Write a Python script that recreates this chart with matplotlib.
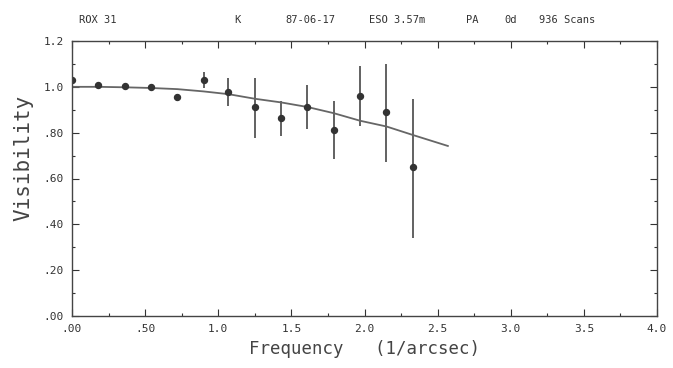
import matplotlib
matplotlib.use("Agg")
import matplotlib.pyplot as plt
from matplotlib.ticker import MultipleLocator, FixedLocator

# measured visibilities
freq = [0.0, 0.18, 0.36, 0.54, 0.72, 0.90, 1.07, 1.25, 1.43, 1.61, 1.79, 1.97, 2.15, 2.33]
vis = [1.03, 1.01, 1.004, 1.0, 0.955, 1.03, 0.977, 0.911, 0.863, 0.914, 0.812, 0.961, 0.89, 0.648]
vis_lo = [1.03, 1.01, 1.004, 1.0, 0.94, 0.994, 0.915, 0.776, 0.786, 0.815, 0.684, 0.827, 0.674, 0.339]
vis_hi = [1.03, 1.01, 1.004, 1.0, 0.97, 1.066, 1.038, 1.038, 0.936, 1.009, 0.936, 1.089, 1.10, 0.946]

# model curve
fit_freq = [0.0, 0.18, 0.36, 0.54, 0.72, 0.90, 1.07, 1.25, 1.43, 1.61, 1.79, 1.97, 2.15, 2.33, 2.57]
fit_vis = [1.0, 1.0, 0.998, 0.995, 0.99, 0.98, 0.968, 0.948, 0.932, 0.912, 0.885, 0.852, 0.827, 0.79, 0.742]

xticks = [0, 0.5, 1.0, 1.5, 2.0, 2.5, 3.0, 3.5, 4.0]
xticklabels = [".00", ".50", "1.0", "1.5", "2.0", "2.5", "3.0", "3.5", "4.0"]
yticks = [0, 0.2, 0.4, 0.6, 0.8, 1.0, 1.2]
yticklabels = [".00", ".20", ".40", ".60", ".80", "1.0", "1.2"]

header = [(79, "ROX 31"), (234, "K"), (285, "87-06-17"), (369, "ESO 3.57m"),
          (466, "PA"), (504, "0d"), (539, "936 Scans")]

ink = "#333333"
plt.rcParams["font.family"] = "DejaVu Sans Mono"

fig = plt.figure(figsize=(6.73, 3.68), dpi=100, facecolor="w")
ax = fig.add_axes([72 / 673, 1 - 316 / 368, 585 / 673, 275 / 368])

yerr = [[v - lo for v, lo in zip(vis, vis_lo)], [hi - v for v, hi in zip(vis, vis_hi)]]
ax.errorbar(freq, vis, yerr=yerr, fmt="o", color=ink, ecolor="#555555",
            elinewidth=1.3, capsize=0, markersize=4.3)
ax.plot(fit_freq, fit_vis, color="#666666", linewidth=1.3)

ax.set_xlim(0, 4.0)
ax.set_ylim(0, 1.2)
ax.xaxis.set_major_locator(FixedLocator(xticks))
ax.set_xticklabels(xticklabels)
ax.yaxis.set_major_locator(FixedLocator(yticks))
ax.set_yticklabels(yticklabels)
ax.xaxis.set_minor_locator(MultipleLocator(0.25))
ax.yaxis.set_minor_locator(MultipleLocator(0.1))
ax.tick_params(which="both", direction="in", top=True, right=True, colors=ink,
               labelsize=8, width=0.8)
ax.tick_params(which="major", length=5, pad=6)
ax.tick_params(which="minor", length=2.5)
for s in ax.spines.values():
    s.set_color("#444444")
    s.set_linewidth(1.0)

ax.set_xlabel("Frequency   (1/arcsec)", fontsize=12.5, color="#444444", labelpad=4)
ax.set_ylabel("Visibility", fontsize=15, color="#444444")
ax.yaxis.set_label_coords(-0.066, 0.575)

for x, t in header:
    fig.text(x / 673, 1 - 20 / 368, t, fontsize=7.5, color=ink, va="center", ha="left")

fig.savefig("out.png", dpi=100)
